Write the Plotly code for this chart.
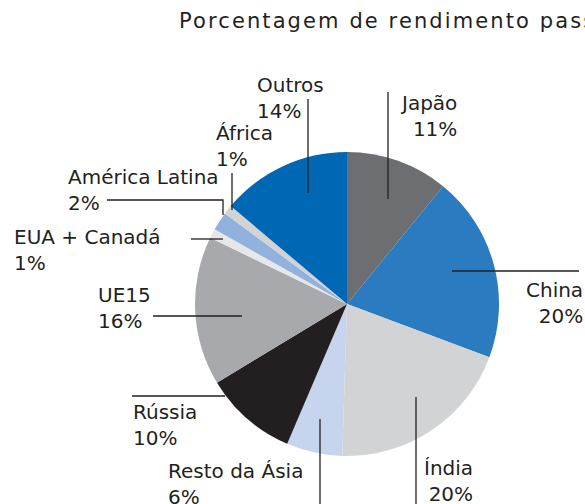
import plotly.graph_objects as go

# ---- data ----
regions = ["Japão", "China", "Índia", "Resto da Ásia", "Rússia", "UE15",
           "EUA + Canadá", "América Latina", "África", "Outros"]
shares = [11, 20, 20, 6, 10, 16, 1, 2, 1, 14]
colors = ["#6d6e71", "#2b7bc1", "#d1d3d4", "#c6d4ed", "#231f20", "#a7a9ac",
          "#e6e7e8", "#92b2de", "#d1d3d4", "#0067b4"]
title_text = "Porcentagem de rendimento passivo"

W, H = 585, 504


def px(x):
    return x / W


def py(y):
    return 1 - y / H


# pie geometry (pixels)
cx, cy, r = 347, 304, 152

fig = go.Figure(go.Pie(
    labels=regions,
    values=shares,
    sort=False,
    direction="clockwise",
    rotation=0,
    textinfo="none",
    hoverinfo="label+percent",
    marker=dict(colors=colors, line=dict(width=0)),
    showlegend=False,
    domain=dict(x=[px(cx - r), px(cx + r)], y=[py(cy + r), py(cy - r)]),
))

# label placement (pixel x, pixel y of block center, anchor, align)
label_pos = {
    "Outros": (255, 98, "left"),
    "Japão": (459, 116, "right"),
    "África": (214, 146, "left"),
    "América Latina": (66, 190, "left"),
    "EUA + Canadá": (12, 250, "left"),
    "UE15": (96, 308, "left"),
    "China": (585, 303, "right"),
    "Rússia": (131, 425, "left"),
    "Resto da Ásia": (166, 484, "left"),
    "Índia": (475, 481, "right"),
}

annotations = []
for name, val in zip(regions, shares):
    x, y, side = label_pos[name]
    annotations.append(dict(
        x=px(x), y=py(y), xref="paper", yref="paper",
        xanchor=side, yanchor="middle", align=side,
        text=f"{name}<br>{val}%", showarrow=False,
        font=dict(family="DejaVu Sans", size=20, color="#231f20"),
    ))

annotations.append(dict(
    x=px(177), y=py(21), xref="paper", yref="paper",
    xanchor="left", yanchor="middle", align="left",
    text=title_text, showarrow=False,
    font=dict(family="DejaVu Sans", size=21, color="#231f20"),
))

lc = "#231f20"
lw = 1.3
leaders = [
    ((388, 92), (388, 199)),      # Japão
    ((452, 271), (579, 271)),     # China
    ((416, 397), (416, 504)),     # Índia
    ((320, 419), (320, 504)),     # Resto da Ásia
    ((132, 396), (225, 396)),     # Rússia
    ((153, 316), (242, 316)),     # UE15
    ((191, 239), (223, 239)),     # EUA + Canadá
    ((232, 173), (232, 210)),     # África
    ((308, 99), (308, 193)),      # Outros
]
shapes = []
for (x0, y0), (x1, y1) in leaders:
    shapes.append(dict(type="line", xref="paper", yref="paper",
                       x0=px(x0), y0=py(y0), x1=px(x1), y1=py(y1),
                       line=dict(color=lc, width=lw)))
# América Latina elbow
shapes.append(dict(type="path", xref="paper", yref="paper",
                   path=f"M {px(107)} {py(200)} L {px(223)} {py(200)} L {px(223)} {py(215)}",
                   line=dict(color=lc, width=lw)))

fig.update_layout(
    width=W, height=H,
    margin=dict(l=0, r=0, t=0, b=0),
    paper_bgcolor="white", plot_bgcolor="white",
    annotations=annotations, shapes=shapes,
)

post = (
    "document.body.style.margin='0';"
    "document.body.style.overflow='hidden';"
    "var t=document.querySelectorAll('.annotation-text');"
    "if(t.length){t[t.length-1].style.letterSpacing='2.1px';}"
)
fig.write_html("out.html", config={"displayModeBar": False}, post_script=post)
